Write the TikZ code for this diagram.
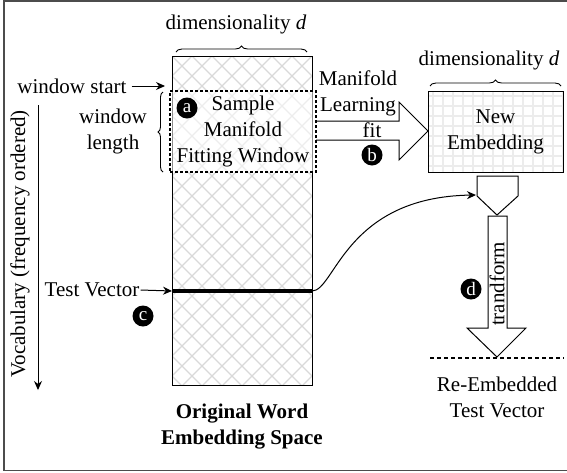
\documentclass[tikz,border=0pt]{standalone}
\usepackage{fontspec}
\setmainfont{Liberation Serif}
\usetikzlibrary{arrows.meta,decorations.pathreplacing,positioning}

\tikzset{
    lbl/.style={font=\fontsize{21}{26}\selectfont, align=center, inner sep=1pt},
    badge/.style={circle, fill=black, text=white, inner sep=0pt, minimum size=21pt,
        font=\fontsize{19}{19}\selectfont},
    brc/.style={decorate, decoration={brace, amplitude=6pt}, line width=0.9pt},
    bigarrow/.style={line width=1pt, line join=miter},
    tip/.style={-{Stealth[length=9pt, width=8pt]}, line width=1pt},
}

\begin{document}
\begin{tikzpicture}[x=1pt, y=-1pt]
    \useasboundingbox (0,0) rectangle (567,472);

    % Frame
    \draw[line width=1.5pt, gray!60!black] (575,1) -- (4,1) -- (4,470.5) -- (575,470.5);

    % Crosshatch of the original space
    \begin{scope}
        \clip (172,56) rectangle (312,385);
        \foreach \k in {-20,...,30} {
            \draw[gray!30, line width=1.3pt] (172+20*\k,56) -- ++(330,330);
            \draw[gray!30, line width=1.3pt] (172+20*\k,56) -- ++(-330,330);
        }
    \end{scope}
    \node[draw, line width=1pt, minimum width=140pt, minimum height=329pt, inner sep=0pt] (orig) at (242,220.5) {};

    % Grid of the new embedding
    \begin{scope}
        \clip (428,91) rectangle (563,172);
        \foreach \k in {0,...,14} {
            \draw[gray!15, line width=2pt] (433+10*\k,91) -- ++(0,81);
        }
        \foreach \k in {0,...,8} {
            \draw[gray!15, line width=2pt] (428,96+10*\k) -- ++(135,0);
        }
    \end{scope}
    \node[draw, line width=1pt, minimum width=135pt, minimum height=81pt, lbl] (newemb) at (495.5,131.5) {New\\Embedding};

    % Fit arrow
    \draw[bigarrow] (316,121) -- (399,121) -- (399,102) -- (428,131) -- (399,160) -- (399,140) -- (316,140);
    \node[lbl] (mlearn) at (358,93) {Manifold\\Learning};
    \node[lbl] (fit) at (372,130) {fit};
    \node[badge] (b) at (372,155) {b};

    % Sample window
    \node[draw, densely dashed, line width=1.2pt, fill=white, fill opacity=0.55, text opacity=1,
        minimum width=146pt, minimum height=81pt, lbl] (win) at (243,131.5) {Sample\\Manifold\\Fitting Window};
    \node[badge] (a) at (187,108) {a};

    % Braces
    \draw[brc] (176,52) -- (307,52);
    \node[lbl] (dim1) at (236,24) {dimensionality \textit{d}};
    \draw[brc] (430,86) -- (561,86);
    \node[lbl] (dim2) at (489,60) {dimensionality \textit{d}};
    \draw[brc, decoration={amplitude=5pt}] (163,172) -- (163,92);
    \node[lbl] (wlen) at (113,131.5) {window\\length};

    % Window start
    \node[lbl] (wstart) at (72,86) {window start};
    \coordinate (wsend) at (165,86);
    \draw[tip, shorten <=4pt] (wstart.east) -- (wsend);

    % Vocabulary axis
    \node[lbl, rotate=90] (vocab) at (20,244) {Vocabulary (frequency ordered)};
    \coordinate (vtop) at (38,105);
    \coordinate (vbot) at (38,390);
    \draw[tip] (vtop) -- (vbot);

    % Test vector
    \node[lbl] (tvtext) at (92,290) {Test Vector};
    \coordinate (tvL) at (172,291);
    \coordinate (tvR) at (312,291);
    \draw[tip] (tvtext.east) -- (tvL);
    \draw[line width=3.5pt] (tvL) -- (tvR);
    \node[badge] (c) at (143,316) {c};
    \node[font=\fontsize{21}{26}\selectfont\bfseries, align=center] (origlbl) at (242,427) {Original Word\\Embedding Space};

    % Funnel and transform arrow
    \draw[bigarrow] (477,176) -- (518,176) -- (518,196) -- (497,215) -- (477,196) -- cycle;
    \coordinate (funL) at (476,195);
    \draw[tip] (tvR) .. controls (335,291) and (345,197) .. (funL);
    \draw[bigarrow] (488,216) -- (507,216) -- (507,328) -- (526,328) -- (497,357) -- (467,328) -- (488,328) -- cycle;
    \node[lbl, rotate=90] (trans) at (497,284) {trandform};
    \node[badge] (d) at (471,289) {d};

    % Re-embedded vector
    \coordinate (reL) at (430,358);
    \coordinate (reR) at (564,358);
    \draw[line width=2.5pt, dash pattern=on 4pt off 3pt] (reL) -- (reR);
    \node[lbl] (relbl) at (497,397) {Re-Embedded\\Test Vector};
\end{tikzpicture}
\end{document}
